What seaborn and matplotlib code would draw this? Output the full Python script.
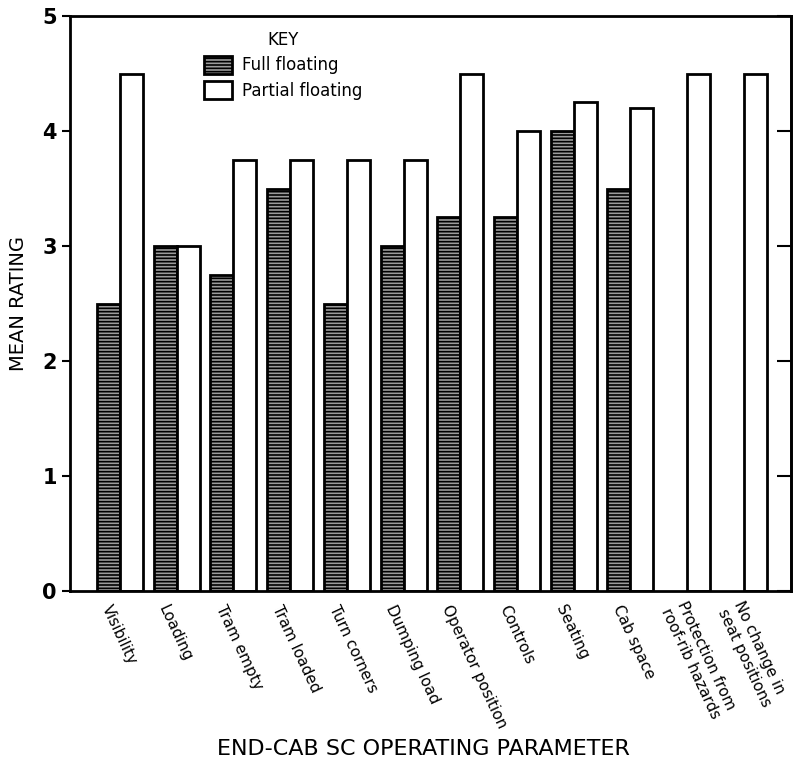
import pandas as pd
import numpy as np
import matplotlib
matplotlib.use('Agg')
import matplotlib.pyplot as plt
import seaborn as sns

parametros = ['Visibility', 'Loading', 'Tram empty', 'Tram loaded', 'Turn corners',
              'Dumping load', 'Operator position', 'Controls', 'Seating', 'Cab space',
              'Protection from\nroof-rib hazards', 'No change in\nseat positions']
full_floating = [2.5, 3.0, 2.75, 3.5, 2.5, 3.0, 3.25, 3.25, 4.0, 3.5, np.nan, np.nan]
partial_floating = [4.5, 3.0, 3.75, 3.75, 3.75, 3.75, 4.5, 4.0, 4.25, 4.2, 4.5, 4.5]
tipe = ['Full floating', 'Partial floating']
warna = {'Full floating': '#9c9c9c', 'Partial floating': 'white'}

data = pd.DataFrame({
    'Parameter': parametros * 2,
    'Rating': full_floating + partial_floating,
    'Tipe': [tipe[0]] * len(parametros) + [tipe[1]] * len(parametros),
})

sns.set_style('white')
plt.rcParams['font.family'] = ['DejaVu Sans']
plt.rcParams['hatch.linewidth'] = 1.2
for k in ['text.color', 'axes.labelcolor', 'xtick.color', 'ytick.color']:
    plt.rcParams[k] = 'black'

fig = plt.figure(figsize=(8.12, 7.64), dpi=100)
ax = fig.add_axes([0.0862, 0.2264, 0.8879, 0.7526])

sns.barplot(data=data, x='Parameter', y='Rating', hue='Tipe', order=parametros,
            hue_order=tipe, palette=warna, errorbar=None, width=0.81,
            edgecolor='black', linewidth=2, ax=ax)

# tekstur batang full floating
for p in ax.containers[0]:
    p.set_hatch('-----')

ax.set_ylim(0, 5)
ax.set_xlim(-0.88, len(parametros) - 1 + 0.83)
ax.set_yticks([0, 1, 2, 3, 4, 5])
ax.set_yticklabels(['0', '1', '2', '3', '4', '5'], fontsize=15, fontweight='bold')
ax.tick_params(axis='y', direction='out', length=6, width=1.5, left=True, right=False)
ax.tick_params(axis='x', length=0)

# tick kanan ke dalam
ax2 = ax.secondary_yaxis('right')
ax2.set_yticks([0, 1, 2, 3, 4, 5])
ax2.set_yticklabels([])
ax2.tick_params(direction='in', length=10, width=1.5)

for s in ax.spines.values():
    s.set_visible(True)
    s.set_color('black')
    s.set_linewidth(2)
ax2.spines['right'].set_linewidth(2)

ax.set_xticks(range(len(parametros)))
ax.set_xticklabels(parametros, rotation=-65, ha='left', va='center',
                   rotation_mode='anchor', fontsize=11, multialignment='left')
for lbl in ax.get_xticklabels():
    lbl.set_transform(lbl.get_transform() + matplotlib.transforms.ScaledTranslation(-0.14, -0.1, fig.dpi_scale_trans))

ax.set_xlabel('END-CAB SC OPERATING PARAMETER', fontsize=16)
ax.xaxis.set_label_coords(0.49, -0.258)
ax.set_ylabel('MEAN RATING', fontsize=14)
ax.yaxis.set_label_coords(-0.058, 0.5)

handles, labels = ax.get_legend_handles_labels()
leg = ax.legend(handles, labels, title='KEY', loc='upper left',
                bbox_to_anchor=(0.165, 1.0), frameon=False, fontsize=12,
                title_fontsize=12, handlelength=1.7, handleheight=1.3,
                handletextpad=0.6, labelspacing=0.4)
leg.legend_handles[0].set_hatch('-----')

fig.savefig('out.png', dpi=100)
